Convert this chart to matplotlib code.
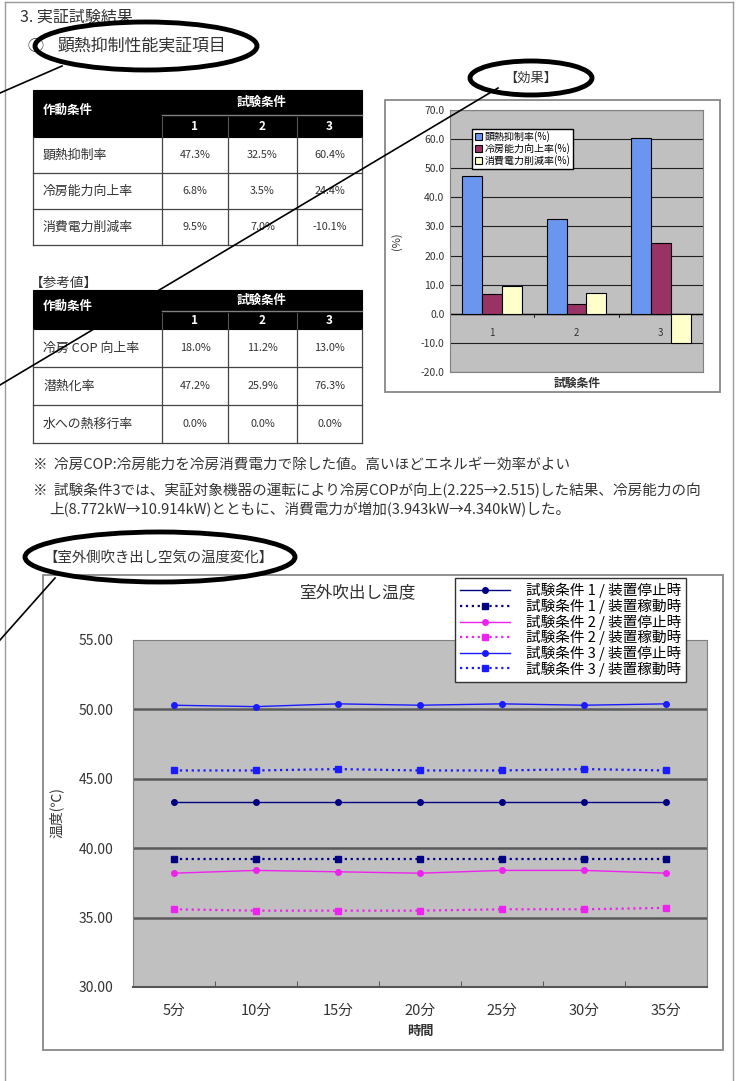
import numpy as np
import matplotlib
matplotlib.use('Agg')
import matplotlib.pyplot as plt
from matplotlib.patches import Rectangle, Ellipse
from matplotlib.ticker import FormatStrFormatter

plt.rcParams['font.family'] = ['Noto Sans CJK JP', 'DejaVu Sans']

# ---- data ----
conditions = ['1', '2', '3']
effect_labels = ['顕熱抑制率', '冷房能力向上率', '消費電力削減率']
heat_suppress = [47.3, 32.5, 60.4]
cooling_gain = [6.8, 3.5, 24.4]
power_cut = [9.5, 7.0, -10.1]
bar_legend = ['顕熱抑制率(%)', '冷房能力向上率(%)', '消費電力削減率(%)']

ref_labels = ['冷房 COP 向上率', '潜熱化率', '水への熱移行率']
cop_gain = [18.0, 11.2, 13.0]
latent_ratio = [47.2, 25.9, 76.3]
water_transfer = [0.0, 0.0, 0.0]

times = ['5分', '10分', '15分', '20分', '25分', '30分', '35分']
c1_stop = [43.3, 43.3, 43.3, 43.3, 43.3, 43.3, 43.3]
c1_run = [39.2, 39.2, 39.2, 39.2, 39.2, 39.2, 39.2]
c2_stop = [38.2, 38.4, 38.3, 38.2, 38.4, 38.4, 38.2]
c2_run = [35.6, 35.5, 35.5, 35.5, 35.6, 35.6, 35.7]
c3_stop = [50.3, 50.2, 50.4, 50.3, 50.4, 50.3, 50.4]
c3_run = [45.6, 45.6, 45.7, 45.6, 45.6, 45.7, 45.6]
line_labels = ['試験条件 1 / 装置停止時', '試験条件 1 / 装置稼動時',
               '試験条件 2 / 装置停止時', '試験条件 2 / 装置稼動時',
               '試験条件 3 / 装置停止時', '試験条件 3 / 装置稼動時']

notes = ['※  冷房COP:冷房能力を冷房消費電力で除した値。高いほどエネルギー効率がよい',
         '※  試験条件3では、実証対象機器の運転により冷房COPが向上(2.225→2.515)した結果、冷房能力の向',
         '上(8.772kW→10.914kW)とともに、消費電力が増加(3.943kW→4.340kW)した。']

W, H = 739, 1081
TXT = '#333333'

fig = plt.figure(figsize=(W / 100, H / 100), dpi=100)


def fig_rect(x0, y0, x1, y1):
    # pixel box -> figure fraction [left, bottom, width, height]
    return [x0 / W, 1 - y1 / H, (x1 - x0) / W, (y1 - y0) / H]


# background layer in pixel coordinates
bg = fig.add_axes([0, 0, 1, 1], zorder=0)
bg.set_xlim(0, W)
bg.set_ylim(H, 0)
bg.axis('off')

# page frame
bg.plot([5, 5], [2, H], color='#999999', lw=1)
bg.plot([5, 733], [2, 2], color='#999999', lw=1)
bg.plot([733, 733], [2, H], color='#999999', lw=1)

bg.text(20, 17, '3. 実証試験結果', fontsize=11.5, color=TXT, va='center')
bg.text(27, 46, '①', fontsize=11.5, color=TXT, va='center')
bg.text(58, 46, '顕熱抑制性能実証項目', fontsize=12.2, color=TXT, va='center')
bg.text(531, 78, '【効果】', fontsize=9.5, color=TXT, va='center', ha='center')
bg.text(30, 283, '【参考値】', fontsize=9.8, color=TXT, va='center')


def draw_table(top, head_mid, head_bot, row_h, labels, rows):
    xs = [33, 162, 228, 297, 362]
    bg.add_patch(Rectangle((xs[0], top), xs[-1] - xs[0], head_bot - top,
                           fc='black', ec='black', lw=0.8))
    bg.plot([xs[1], xs[-1]], [head_mid, head_mid], color='#808080', lw=1)
    for x in xs[1:-1]:
        bg.plot([x, x], [head_mid + 2, head_bot], color='#555555', lw=0.8)
    bg.text(43, (top + head_bot) / 2 - 3, '作動条件', color='white',
            fontsize=9, fontweight='bold', va='center')
    bg.text((xs[1] + xs[-1]) / 2, (top + head_mid) / 2, '試験条件', color='white',
            fontsize=9, fontweight='bold', va='center', ha='center')
    for j, c in enumerate(conditions):
        bg.text((xs[j + 1] + xs[j + 2]) / 2, (head_mid + head_bot) / 2 + 1, c,
                color='white', fontsize=8.5, fontweight='bold', va='center', ha='center')
    bottom = head_bot + row_h * len(rows)
    for i, (lab, vals) in enumerate(zip(labels, rows)):
        y0 = head_bot + row_h * i
        yc = y0 + row_h / 2
        bg.text(43, yc, lab, color=TXT, fontsize=9.3, va='center')
        for j, v in enumerate(vals):
            bg.text((xs[j + 1] + xs[j + 2]) / 2, yc, f'{v:.1f}%', color=TXT,
                    fontsize=7.8, va='center', ha='center')
        bg.plot([xs[0], xs[-1]], [y0 + row_h, y0 + row_h], color='#444444', lw=0.9)
    for x in xs:
        bg.plot([x, x], [head_bot, bottom], color='#444444', lw=0.9)


draw_table(90, 115, 137, 36, effect_labels, [heat_suppress, cooling_gain, power_cut])
draw_table(290, 311, 329, 38, ref_labels, [cop_gain, latent_ratio, water_transfer])

for k, s in enumerate(notes):
    bg.text(33 if k < 2 else 49, [465, 490, 510][k], s, fontsize=10.5, color=TXT, va='center')

bg.text(43, 558, '【室外側吹き出し空気の温度変化】', fontsize=10.4, color=TXT, va='center')

# chart frames
bg.add_patch(Rectangle((385, 100), 335, 292, fc='white', ec='#888888', lw=1.3))
bg.add_patch(Rectangle((43, 575), 680, 475, fc='white', ec='#888888', lw=1.3))
bg.text(577, 383, '試験条件', fontsize=8.5, fontweight='bold', color=TXT, ha='center', va='center')
bg.text(397, 241, '(%)', fontsize=8, color=TXT, ha='center', va='center', rotation=90)
bg.text(357, 593, '室外吹出し温度', fontsize=12, color=TXT, ha='center', va='center')
bg.text(56, 813, '温度(℃)', fontsize=10, color=TXT, ha='center', va='center', rotation=90)
bg.text(420, 1031, '時間', fontsize=9.5, fontweight='bold', color=TXT, ha='center', va='center')

# ---- bar chart ----
bx = fig.add_axes(fig_rect(450, 110, 703, 372), zorder=2)
bx.set_facecolor('#c0c0c0')
pos = np.arange(len(conditions)) + 0.5
bw = 0.235
bar_series = [heat_suppress, cooling_gain, power_cut]
bar_colors = ['#6a96f0', '#993366', '#ffffcc']
for k, (vals, col) in enumerate(zip(bar_series, bar_colors)):
    bx.bar(pos + (k - 1) * bw, vals, width=bw, color=col, edgecolor='black',
           linewidth=0.8, label=bar_legend[k], zorder=3)
bx.set_xlim(0, 3)
bx.set_ylim(-20, 70)
bx.set_yticks(np.arange(-20, 71, 10))
bx.yaxis.set_major_formatter(FormatStrFormatter('%.1f'))
bx.tick_params(axis='y', labelsize=7.5, labelcolor=TXT, length=0, pad=4)
bx.set_xticks([])
bx.yaxis.grid(True, color='#202020', lw=0.8)
bx.set_axisbelow(True)
bx.axhline(0, color='black', lw=1, zorder=2)
for b in [1, 2]:
    bx.plot([b, b], [0, -1.2], color='black', lw=0.6, zorder=2)
for p, c in zip(pos, conditions):
    bx.text(p, -6.5, c, fontsize=7, color=TXT, ha='center', va='center')
for sp in bx.spines.values():
    sp.set_color('#808080')
bx.legend(loc='upper left', bbox_to_anchor=(467 / W, 1 - 124 / H),
          bbox_transform=fig.transFigure, fontsize=7.2, handlelength=0.7,
          handleheight=0.7, handletextpad=0.3, borderpad=0.25, labelspacing=0.1,
          frameon=True, fancybox=False, edgecolor='black', framealpha=1)

# ---- line chart ----
lx = fig.add_axes(fig_rect(133, 640, 707, 987), zorder=2)
lx.set_facecolor('#c0c0c0')
xi = np.arange(len(times))
line_series = [c1_stop, c1_run, c2_stop, c2_run, c3_stop, c3_run]
line_colors = ['#000080', '#000080', '#ee22ee', '#ee22ee', '#1a1aff', '#1a1aff']
for k, (vals, col, lab) in enumerate(zip(line_series, line_colors, line_labels)):
    if k % 2 == 0:
        lx.plot(xi, vals, color=col, lw=1.0, ls='-', marker='o', ms=4, label=lab, zorder=3)
    else:
        lx.plot(xi, vals, color=col, lw=1.6, ls=':', marker='s', ms=4.5, label=lab, zorder=3)
lx.set_xlim(-0.5, len(times) - 0.5)
lx.set_ylim(30, 55)
lx.set_yticks(np.arange(30, 56, 5))
lx.yaxis.set_major_formatter(FormatStrFormatter('%.2f'))
lx.tick_params(axis='y', labelsize=10, labelcolor=TXT, length=0, pad=14)
lx.set_xticks(xi)
lx.set_xticklabels(times)
lx.tick_params(axis='x', which='major', labelsize=10.5, labelcolor=TXT, length=0, pad=12)
lx.set_xticks(np.arange(0.5, len(times) - 1, 1), minor=True)
lx.tick_params(axis='x', which='minor', length=4, direction='in', color='#444444')
for yv in [35, 40, 45, 50]:
    lx.axhline(yv, color='#5a5a5a', lw=1.8, zorder=1)
for sp in lx.spines.values():
    sp.set_color('#808080')
lx.spines['bottom'].set_color('#555555')
lx.spines['bottom'].set_linewidth(1.5)
lx.legend(loc='upper left', bbox_to_anchor=(455 / W, 1 - 578 / H),
          bbox_transform=fig.transFigure, fontsize=10.5, handlelength=3.4,
          handletextpad=1.1, borderpad=0.35, borderaxespad=0, labelspacing=0.02,
          numpoints=1, frameon=True, fancybox=False, edgecolor='#333333', framealpha=1)

# ---- hand-drawn marks on top ----
fg = fig.add_axes([0, 0, 1, 1], zorder=5)
fg.set_xlim(0, W)
fg.set_ylim(H, 0)
fg.axis('off')
fg.patch.set_alpha(0)
for (cx, cy, ew, eh) in [(146, 46, 222, 48), (531, 78, 122, 34), (160, 557, 270, 50)]:
    fg.add_patch(Ellipse((cx, cy), ew, eh, fill=False, ec='black', lw=3.5))
fg.plot([62, 0], [66, 93], color='black', lw=1.2)
fg.plot([498, 0], [88, 385], color='black', lw=1.2)
fg.plot([55, 0], [578, 640], color='black', lw=1.2)

fig.savefig('out.png', dpi=100)
